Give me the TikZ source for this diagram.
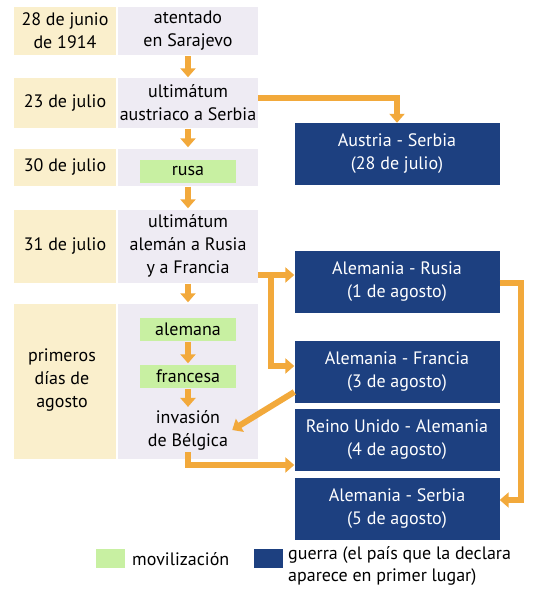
\documentclass[tikz,border=0pt]{standalone}
\usepackage{fontspec}
\setmainfont{PT Sans}
\usetikzlibrary{arrows.meta}

\definecolor{fecha}{HTML}{FAEFCC}
\definecolor{hecho}{HTML}{EEEBF3}
\definecolor{movil}{HTML}{C8F0A2}
\definecolor{guerra}{HTML}{1D4080}
\definecolor{flecha}{HTML}{F2A93B}

\tikzset{
    fechabox/.style={fill=fecha, minimum width=102pt, align=center, inner sep=0pt},
    hechobox/.style={fill=hecho, minimum width=140pt, align=center, inner sep=0pt},
    movbox/.style={fill=movil, minimum width=96pt, minimum height=23pt, inner sep=0pt},
    guerrabox/.style={fill=guerra, text=white, minimum width=205pt, minimum height=62pt, align=center, inner sep=0pt},
    flow/.style={draw=flecha, line width=6pt, -{Triangle[length=9pt,width=15pt]}},
    bajada/.style={flow, shorten <=1pt, shorten >=1pt}
}

\begin{document}
\begin{tikzpicture}[x=1pt, y=-1pt, font=\fontsize{18}{23}\selectfont]
    \useasboundingbox (0,0) rectangle (538,599);

    % fechas
    \node[fechabox, minimum height=48pt] (f1) at (65,31) {28 de junio\\de 1914};
    \node[fechabox, minimum height=49pt] (f2) at (65,103) {23 de julio};
    \node[fechabox, minimum height=37pt] (f3) at (65,167) {30 de julio};
    \node[fechabox, minimum height=73pt] (f4) at (65,246) {31 de julio};
    \node[fechabox, minimum height=155pt] (f5) at (65,381) {};
    \node[align=center] (f5txt) at (62,380) {primeros\\días de\\agosto};

    % hechos
    \node[hechobox, minimum height=48pt] (h1) at (188,31) {atentado\\en Sarajevo};
    \node[hechobox, minimum height=49pt] (h2) at (188,103) {ultimátum\\austriaco a Serbia};
    \node[hechobox, minimum height=37pt] (h3) at (188,167) {};
    \node[hechobox, minimum height=73pt] (h4) at (188,246) {ultimátum\\alemán a Rusia\\y a Francia};
    \node[hechobox, minimum height=155pt] (h5) at (188,381) {};

    \node[movbox] (rusa) at (188,171) {rusa};
    \node[movbox] (alemana) at (188,329) {alemana};
    \node[movbox] (francesa) at (188,376) {francesa};
    \node[align=center, inner sep=2pt] (belgica) at (188,430) {invasión\\de Bélgica};

    % guerras
    \node[guerrabox] (aus) at (397,154) {Austria - Serbia\\(28 de julio)};
    \node[guerrabox] (rus) at (397,282) {Alemania - Rusia\\(1 de agosto)};
    \node[guerrabox] (fra) at (397,372) {Alemania - Francia\\(3 de agosto)};
    \node[guerrabox] (uk) at (397,440) {Reino Unido - Alemania\\(4 de agosto)};
    \node[guerrabox] (ser) at (397,509) {Alemania - Serbia\\(5 de agosto)};

    \draw[bajada] (h1) -- (h2);
    \draw[bajada] (h2) -- (h3);
    \draw[bajada] (h3) -- (h4);
    \draw[bajada] (h4) -- (h5);
    \draw[bajada] (alemana) -- (francesa);
    \draw[bajada] (francesa) -- (belgica);

    \draw[flow] ([yshift=5pt]h2.east) -| (aus.north);
    \coordinate (s4) at ([yshift=-29pt]h4.east);
    \draw[flow] (s4) -- (s4 -| rus.west);
    \draw[flow, -] ([xshift=13pt]s4) -- ++(0,4);
    \draw[flow] ([xshift=13pt]s4) |- ([yshift=6pt]fra.west);
    \draw[flow] ([yshift=-1pt]rus.east) -- ++(21,0) |- ([yshift=9pt]ser.east);
    \draw[flow] ([yshift=-20pt]fra.west) -- ([xshift=2pt]belgica.east);
    \draw[flow] (belgica.south) |- ([yshift=-25pt]uk.west);

    % leyenda
    \node[fill=movil, minimum width=29pt, minimum height=19pt, inner sep=0pt] (leymov) at (110,558) {};
    \node[anchor=west, inner sep=0pt] (txtmov) at (132,559) {movilización};
    \node[fill=guerra, minimum width=29pt, minimum height=19pt, inner sep=0pt] (leyguerra) at (268,558) {};
    \node[anchor=north west, align=left, inner sep=0pt, font=\fontsize{18}{22}\selectfont] (txtguerra) at (288,546) {guerra (el país que la declara\\aparece en primer lugar)};
\end{tikzpicture}
\end{document}
